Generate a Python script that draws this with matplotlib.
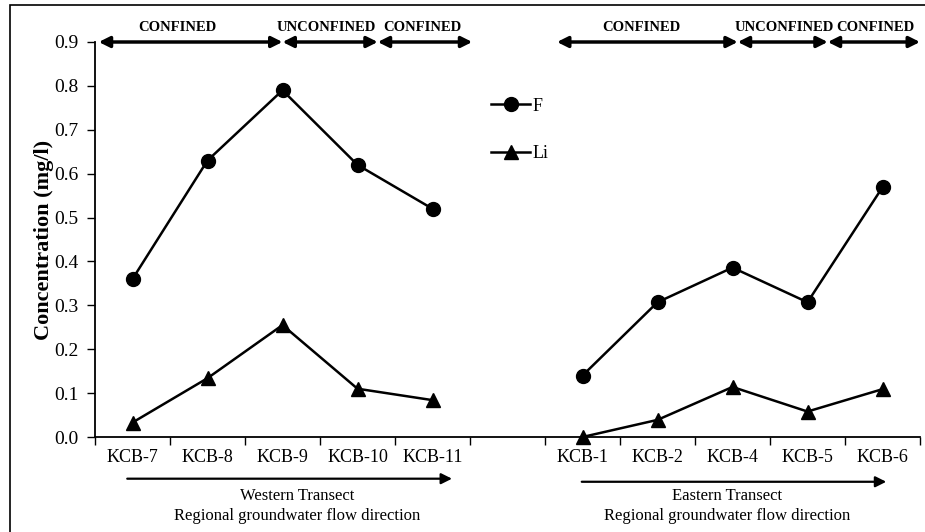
import numpy as np
import matplotlib
matplotlib.use("Agg")
import matplotlib.pyplot as plt
from matplotlib.lines import Line2D
from matplotlib.patches import Rectangle

# Fluoride and lithium concentrations (mg/l) along the two transects
west_wells = ["KCB-7", "KCB-8", "KCB-9", "KCB-10", "KCB-11"]
west_f = [0.36, 0.63, 0.79, 0.62, 0.52]
west_li = [0.033, 0.134, 0.255, 0.11, 0.084]

east_wells = ["KCB-1", "KCB-2", "KCB-4", "KCB-5", "KCB-6"]
east_f = [0.14, 0.307, 0.386, 0.307, 0.569]
east_li = [0.0, 0.039, 0.114, 0.058, 0.109]

# aquifer condition along each transect: (start, end, label) in category units
zones = [
    (0.05, 2.5, "CONFINED"),
    (2.5, 3.77, "UNCONFINED"),
    (3.77, 5.03, "CONFINED"),
    (6.16, 8.57, "CONFINED"),
    (8.57, 9.77, "UNCONFINED"),
    (9.77, 11.0, "CONFINED"),
]
zone_label_x = [1.1, 3.09, 4.37, 7.28, 9.19, 10.41]

plt.rcParams["font.family"] = ["Liberation Serif", "DejaVu Serif"]

fig = plt.figure(figsize=(9.25, 5.32), dpi=100)
ax = fig.add_axes([95 / 925, 95 / 532, 825 / 925, 395 / 532])

x_west = np.arange(len(west_wells)) + 0.5
x_east = np.arange(len(east_wells)) + len(west_wells) + 1.5

style = dict(color="black", lw=1.8)
for xs, f, li in [(x_west, west_f, west_li), (x_east, east_f, east_li)]:
    ax.plot(xs, f, marker="o", ms=10, clip_on=False, **style)
    ax.plot(xs, li, marker="^", ms=10, clip_on=False, **style)

ax.set_xlim(0, 11)
ax.set_ylim(0, 0.9)
ax.set_yticks(np.arange(0, 0.91, 0.1))
ax.set_yticklabels([f"{v:.1f}" for v in np.arange(0, 0.91, 0.1)], fontsize=14)
ax.set_xticks(np.arange(0, 12))
ax.set_xticklabels([])
ax.set_xticks(np.concatenate([x_west, x_east]), minor=True)
ax.set_xticklabels(west_wells + east_wells, minor=True, fontsize=13)
ax.tick_params(axis="x", which="minor", length=0, pad=9)
ax.tick_params(axis="both", which="major", length=6, width=1, direction="out")
ax.tick_params(axis="y", pad=6)
for side in ["top", "right"]:
    ax.spines[side].set_visible(False)
for side in ["left", "bottom"]:
    ax.spines[side].set_linewidth(1.3)

# double-headed arrows marking confined / unconfined stretches
for (start, end, label), lx in zip(zones, zone_label_x):
    ax.annotate("", xy=(end, 0.9), xytext=(start, 0.9),
                arrowprops=dict(arrowstyle="<|-|>", color="black", lw=2.5,
                                mutation_scale=16, shrinkA=0, shrinkB=0),
                annotation_clip=False)
    ax.text(lx, 0.932, label, ha="center", va="center",
            fontsize=10.5, fontweight="bold")

# flow-direction arrows beneath the transects
transects = [
    (0.43, 4.76, 2.69, -0.095, "Western Transect"),
    (6.49, 10.55, 8.43, -0.102, "Eastern Transect"),
]
for start, end, mid, y, name in transects:
    ax.annotate("", xy=(end, y), xytext=(start, y),
                arrowprops=dict(arrowstyle="-|>", color="black", lw=1.6,
                                mutation_scale=16, shrinkA=0, shrinkB=0),
                annotation_clip=False)
    ax.text(mid, -0.134, name, ha="center", va="center", fontsize=12)
    ax.text(mid, -0.179, "Regional groundwater flow direction",
            ha="center", va="center", fontsize=12)

ax.set_ylabel("Concentration (mg/l)", fontsize=16, fontweight="bold")
ax.yaxis.set_label_coords(-41 / 825, 0.5)

handles = [
    Line2D([], [], marker="o", ms=10, **style),
    Line2D([], [], marker="^", ms=10, **style),
]
ax.legend(handles, ["F", "Li"], loc="upper left", bbox_to_anchor=(0.46, 0.9),
          frameon=False, fontsize=13, handlelength=2.2, handletextpad=0.1,
          labelspacing=1.7)

# frame around the whole figure
fig.add_artist(Rectangle((10 / 925, -0.05), 1.0, 0.05 + 527 / 532,
                         transform=fig.transFigure, fill=False,
                         edgecolor="black", lw=1.2, clip_on=False))

fig.savefig("out.png", dpi=100)
